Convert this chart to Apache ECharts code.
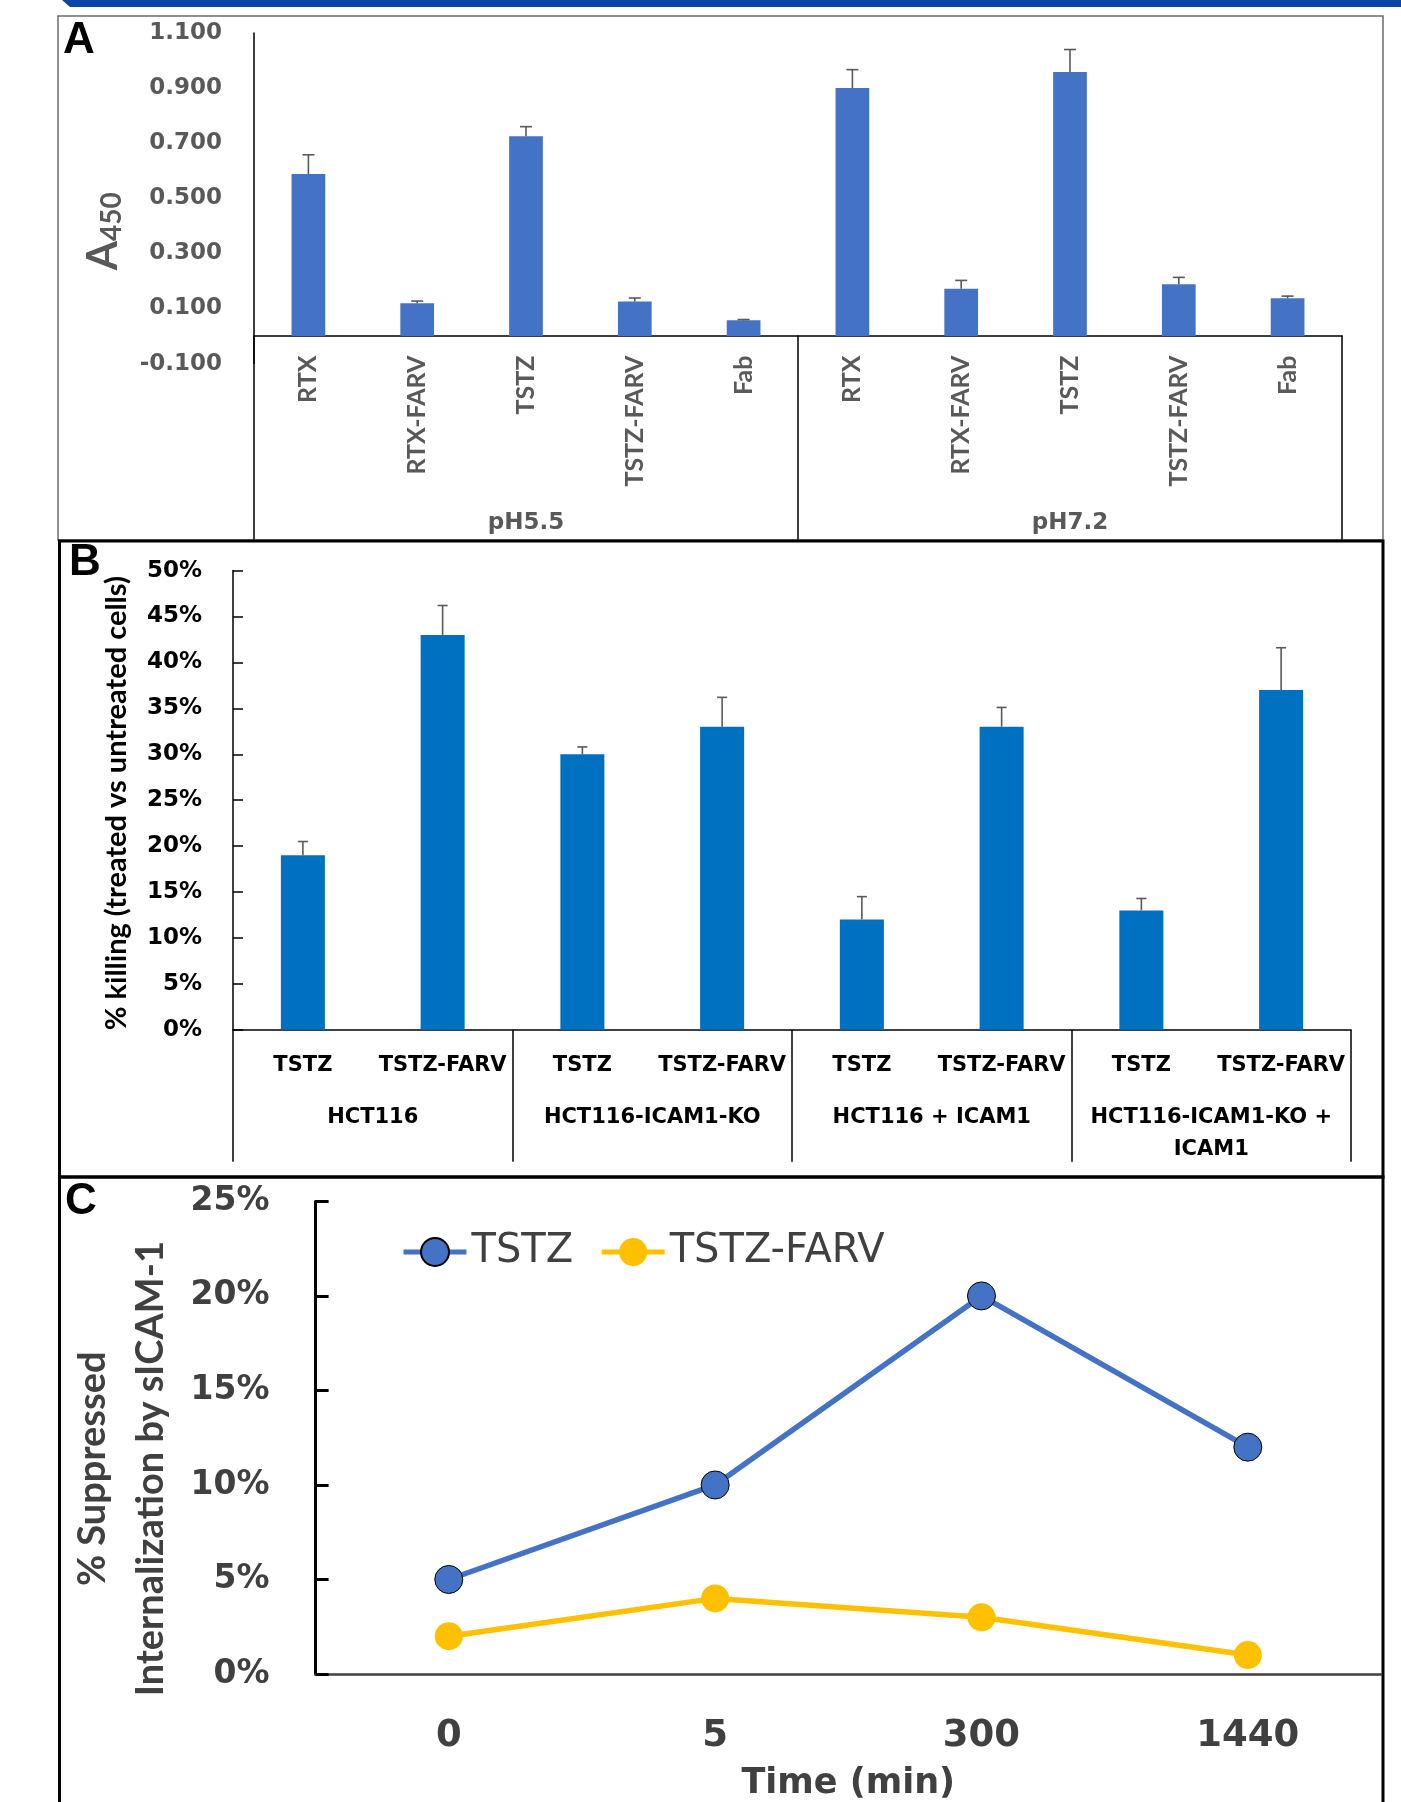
<!DOCTYPE html>
<html>
<head>
<meta charset="utf-8">
<script src="https://cdn.jsdelivr.net/npm/echarts@6/dist/echarts.min.js"></script>
<style>
html,body{margin:0;padding:0;background:#fff;}
#chart{width:1401px;height:1802px;}
</style>
</head>
<body>
<div id="chart"></div>
<script>
// ---------- Panel A data ----------
const A_categories = ['RTX','RTX-FARV','TSTZ','TSTZ-FARV','Fab','RTX','RTX-FARV','TSTZ','TSTZ-FARV','Fab'];
const A_groups = ['pH5.5','pH7.2'];
const A_values = [0.588, 0.119, 0.725, 0.125, 0.057, 0.900, 0.172, 0.958, 0.188, 0.137];
const A_errors = [0.070, 0.008, 0.035, 0.013, 0.003, 0.067, 0.030, 0.082, 0.025, 0.008];
const A_ticks = [-0.1, 0.1, 0.3, 0.5, 0.7, 0.9, 1.1];

// ---------- Panel B data ----------
const B_categories = ['TSTZ','TSTZ-FARV','TSTZ','TSTZ-FARV','TSTZ','TSTZ-FARV','TSTZ','TSTZ-FARV'];
const B_groups = ['HCT116','HCT116-ICAM1-KO','HCT116 + ICAM1','HCT116-ICAM1-KO +\nICAM1'];
const B_values = [19, 43, 30, 33, 12, 33, 13, 37];
const B_errors = [1.5, 3.2, 0.8, 3.2, 2.5, 2.1, 1.3, 4.6];

// ---------- Panel C data ----------
const C_times = ['0','5','300','1440'];
const C_tstz = [5, 10, 20, 12];
const C_tstzFarv = [2, 4, 3, 1];

const BOLD = 'DejaVu Sans';
const ROT = 'Lato';

function errRender(capHalf){
  return function(params, api){
    const i = api.value(0), v = api.value(1), e = api.value(2);
    const p0 = api.coord([i, v]);
    const p1 = api.coord([i, v + e]);
    const st = {stroke:'#595959', lineWidth:1.6};
    return {type:'group', children:[
      {type:'line', shape:{x1:p0[0], y1:p0[1], x2:p1[0], y2:p1[1]}, style:st},
      {type:'line', shape:{x1:p1[0]-capHalf, y1:p1[1], x2:p1[0]+capHalf, y2:p1[1]}, style:st}
    ]};
  };
}

const chart = echarts.init(document.getElementById('chart'), null, {renderer:'canvas'});

const option = {
  animation:false,
  backgroundColor:'#ffffff',
  grid:[
    {left:254, top:33, width:1088, height:330.6},
    {left:233, top:570.6, width:1118, height:459.2},
    {left:315.6, top:1201.4, width:1065.4, height:473.2}
  ],
  legend:{
    data:['TSTZ','TSTZ-FARV'],
    left:396, top:1227,
    itemWidth:63, itemHeight:35, itemGap:26,
    lineStyle:{width:5},
    textStyle:{fontFamily:BOLD, fontSize:40, color:'#404040'}
  },
  xAxis:[
    { // A categories
      gridIndex:0, type:'category', data:A_categories,
      axisLine:{onZero:true, lineStyle:{color:'#000', width:1.5}},
      axisTick:{show:false},
      axisLabel:{rotate:90, margin:-8, interval:0, fontFamily:ROT, fontWeight:'bold', fontSize:25, color:'#595959'}
    },
    { // A groups
      gridIndex:0, type:'category', data:A_groups, position:'bottom', offset:176,
      axisLine:{show:false, onZero:false},
      axisTick:{show:true, inside:true, length:204, interval:0, lineStyle:{color:'#000', width:1.5}},
      axisLabel:{inside:true, margin:5, interval:0, fontFamily:BOLD, fontWeight:'bold', fontSize:23, color:'#595959'}
    },
    { // B categories
      gridIndex:1, type:'category', data:B_categories,
      axisLine:{lineStyle:{color:'#000', width:1.5}},
      axisTick:{show:false},
      axisLabel:{margin:25, interval:0, fontFamily:BOLD, fontWeight:'bold', fontSize:21, color:'#000'}
    },
    { // B groups
      gridIndex:1, type:'category', data:B_groups, position:'bottom', offset:0,
      axisLine:{show:false, onZero:false},
      axisTick:{show:true, length:132, interval:0, lineStyle:{color:'#000', width:1.5}},
      axisLabel:{margin:72, interval:0, lineHeight:32, fontFamily:BOLD, fontWeight:'bold', fontSize:21, color:'#000'}
    },
    { // C
      gridIndex:2, type:'category', data:C_times,
      axisLine:{lineStyle:{color:'#404040', width:2.5}},
      axisTick:{show:false},
      axisLabel:{margin:44, fontFamily:BOLD, fontWeight:'bold', fontSize:37, color:'#404040'},
      name:'Time (min)', nameLocation:'middle', nameGap:92,
      nameTextStyle:{fontFamily:BOLD, fontWeight:'bold', fontSize:35, color:'#404040'}
    }
  ],
  yAxis:[
    {
      gridIndex:0, type:'value', min:-0.1, max:1.1,
      axisLine:{show:true, lineStyle:{color:'#000', width:1.5}},
      axisTick:{show:false},
      splitLine:{show:false},
      axisLabel:{customValues:A_ticks, margin:32, fontFamily:BOLD, fontWeight:'bold', fontSize:23, color:'#595959',
                 formatter:function(v){return v.toFixed(3);}},
      name:'{a|A}{s|450}', nameLocation:'middle', nameGap:128,
      nameTextStyle:{padding:[0,66,0,0], rich:{
        a:{fontFamily:ROT, fontWeight:'bold', fontSize:42, color:'#595959', lineHeight:44, verticalAlign:'top'},
        s:{fontFamily:ROT, fontWeight:'bold', fontSize:28, color:'#595959', lineHeight:40, verticalAlign:'bottom', padding:[18,0,0,0]}
      }}
    },
    {
      gridIndex:1, type:'value', min:0, max:50, interval:5,
      axisLine:{show:true, lineStyle:{color:'#000', width:1.5}},
      axisTick:{show:true, inside:true, length:10, lineStyle:{color:'#000', width:1.5}},
      splitLine:{show:false},
      axisLabel:{margin:31, fontFamily:BOLD, fontWeight:'bold', fontSize:23, color:'#000', formatter:'{value}%'},
      name:'% killing (treated vs untreated cells)', nameLocation:'middle', nameGap:102,
      nameTextStyle:{fontFamily:ROT, fontWeight:'bold', fontSize:29, color:'#000', padding:[0,6,0,0]}
    },
    {
      gridIndex:2, type:'value', min:0, max:25, interval:5,
      axisLine:{show:true, lineStyle:{color:'#000', width:3}},
      axisTick:{show:true, inside:true, length:13, lineStyle:{color:'#000', width:3}},
      splitLine:{show:false},
      axisLabel:{margin:46, fontFamily:BOLD, fontWeight:'bold', fontSize:33, color:'#404040', formatter:'{value}%'},
      name:'% Suppressed\nInternalization by sICAM-1', nameLocation:'middle', nameGap:122,
      nameTextStyle:{fontFamily:ROT, fontWeight:'bold', fontSize:38, lineHeight:58, color:'#404040', padding:[0,62,0,0]}
    }
  ],
  series:[
    {type:'bar', xAxisIndex:0, yAxisIndex:0, data:A_values, barWidth:'31%',
     itemStyle:{color:'#4472C4'}},
    {type:'custom', xAxisIndex:0, yAxisIndex:0, renderItem:errRender(6),
     data:A_values.map(function(v,i){return [i, v, A_errors[i]];}), z:5},
    {type:'bar', xAxisIndex:2, yAxisIndex:1, data:B_values, barWidth:'31.5%',
     itemStyle:{color:'#0070C0'}},
    {type:'custom', xAxisIndex:2, yAxisIndex:1, renderItem:errRender(5),
     data:B_values.map(function(v,i){return [i, v, B_errors[i]];}), z:5},
    {type:'line', name:'TSTZ', xAxisIndex:4, yAxisIndex:2, data:C_tstz,
     symbol:'circle', symbolSize:28,
     lineStyle:{color:'#4472C4', width:5.5},
     itemStyle:{color:'#4472C4', borderColor:'#000', borderWidth:1}},
    {type:'line', name:'TSTZ-FARV', xAxisIndex:4, yAxisIndex:2, data:C_tstzFarv,
     symbol:'circle', symbolSize:28,
     lineStyle:{color:'#FFC000', width:5.5},
     itemStyle:{color:'#FFC000', borderWidth:0}}
  ],
  graphic:[
    {type:'polygon', shape:{points:[[62,0],[1401,0],[1401,7],[70,7]]}, style:{fill:'#0B46A6'}, silent:true},
    {type:'rect', shape:{x:58, y:16, width:1325, height:524}, style:{fill:'none', stroke:'#6b6b6b', lineWidth:1.5}, silent:true},
    {type:'rect', shape:{x:59.5, y:541, width:1323.5, height:636}, style:{fill:'none', stroke:'#000', lineWidth:3}, silent:true},
    {type:'rect', shape:{x:59.5, y:1177, width:1323.5, height:640}, style:{fill:'none', stroke:'#000', lineWidth:3}, silent:true},
    {type:'text', left:63, top:19, style:{text:'A', fontFamily:'Liberation Sans', fontWeight:'bold', fontSize:44, fill:'#000'}, silent:true},
    {type:'text', left:69, top:541, style:{text:'B', fontFamily:'Liberation Sans', fontWeight:'bold', fontSize:44, fill:'#000'}, silent:true},
    {type:'text', left:65, top:1180, style:{text:'C', fontFamily:'Liberation Sans', fontWeight:'bold', fontSize:44, fill:'#000'}, silent:true}
  ]
};

chart.setOption(option);
</script>
</body>
</html>
